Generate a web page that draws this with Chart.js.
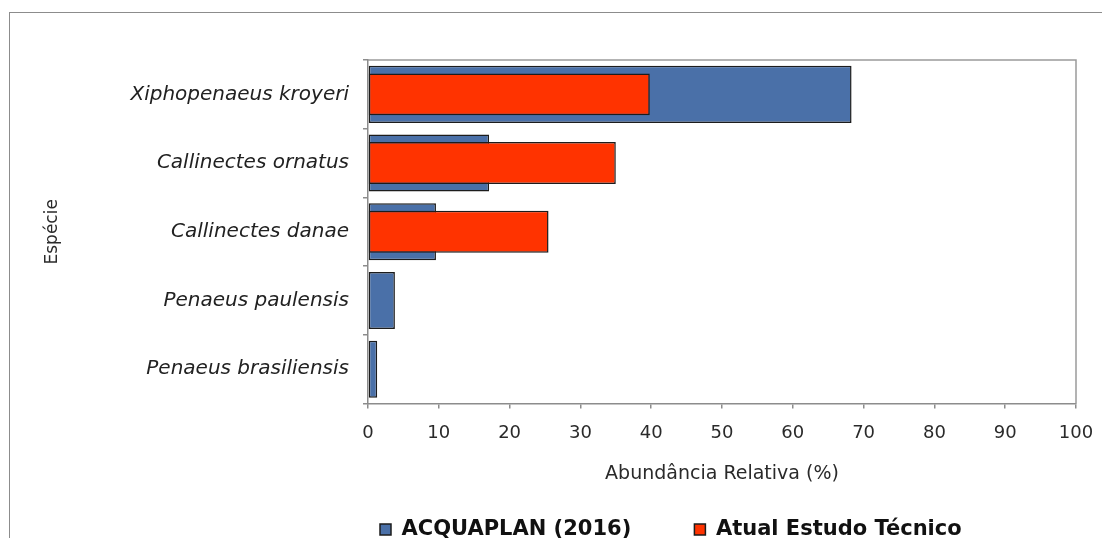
<!DOCTYPE html>
<html>
<head>
<meta charset="utf-8">
<script src="https://cdn.jsdelivr.net/npm/chart.js@4/dist/chart.umd.min.js"></script>
<style>
  html, body { margin: 0; padding: 0; background: #fff; }
  #wrap { position: relative; width: 1102px; height: 538px; overflow: hidden; }
  #frame { position: absolute; left: 9px; top: 12px; width: 1200px; height: 700px; border: 1.5px solid #8c8c8c; }
  #chart { position: absolute; left: 0; top: 0; }
</style>
</head>
<body>
<div id="wrap">
  <div id="frame"></div>
  <canvas id="chart" width="1102" height="538"></canvas>
</div>
<script>
// dados
const especies = ['Xiphopenaeus kroyeri', 'Callinectes ornatus', 'Callinectes danae', 'Penaeus paulensis', 'Penaeus brasiliensis'];
const acquaplan2016 = [68.3, 17.1, 9.6, 3.8, 1.3];
const atualEstudo = [39.8, 35.0, 25.5, null, null];
const xMin = 0;
const xMax = 100;
const xStep = 10;

const fontFamily = '"DejaVu Sans", Verdana, sans-serif';

// moldura superior e direita da área do gráfico
const plotFrame = {
    id: 'plotFrame',
    beforeDatasetsDraw(chart) {
        const { ctx, chartArea } = chart;
        ctx.save();
        ctx.strokeStyle = '#9a9a9a';
        ctx.lineWidth = 1.5;
        ctx.beginPath();
        ctx.moveTo(chartArea.left, chartArea.top);
        ctx.lineTo(chartArea.right, chartArea.top);
        ctx.lineTo(chartArea.right, chartArea.bottom);
        ctx.stroke();
        ctx.restore();
    }
};

const ctx = document.getElementById('chart').getContext('2d');
new Chart(ctx, {
    type: 'bar',
    data: {
        labels: especies,
        datasets: [{
            label: 'ACQUAPLAN (2016)',
            data: acquaplan2016,
            backgroundColor: '#4a70a8',
            borderColor: '#1c1c1c',
            borderWidth: 1.5,
            borderSkipped: false,
            grouped: false,
            categoryPercentage: 1,
            barPercentage: 0.83,
            order: 1
        }, {
            label: 'Atual Estudo Técnico',
            data: atualEstudo,
            backgroundColor: '#ff3300',
            borderColor: '#1c1c1c',
            borderWidth: 1.5,
            borderSkipped: false,
            grouped: false,
            categoryPercentage: 1,
            barPercentage: 0.61,
            order: 0
        }]
    },
    options: {
        indexAxis: 'y',
        responsive: false,
        animation: false,
        layout: { padding: { left: 36, right: 26, top: 60, bottom: -12 } },
        scales: {
            x: {
                min: xMin,
                max: xMax,
                ticks: {
                    stepSize: xStep,
                    color: '#2a2a2a',
                    padding: 14,
                    font: { family: fontFamily, size: 18 }
                },
                grid: { drawOnChartArea: false, tickLength: 5, color: '#8c8c8c', lineWidth: 1.5 },
                border: { color: '#8c8c8c', width: 1.5 },
                title: {
                    display: true,
                    text: 'Abundância Relativa (%)',
                    color: '#2a2a2a',
                    font: { family: fontFamily, size: 19 },
                    padding: { top: 4, bottom: 22 }
                },
                afterFit(scale) { scale.paddingRight = 0; }
            },
            y: {
                ticks: {
                    color: '#222',
                    padding: 14,
                    font: { family: fontFamily, size: 20, style: 'italic' }
                },
                grid: { drawOnChartArea: false, tickLength: 5, color: '#8c8c8c', lineWidth: 1.5, offset: true },
                border: { color: '#8c8c8c', width: 1.5 },
                title: {
                    display: true,
                    text: 'Espécie',
                    color: '#2a2a2a',
                    font: { family: fontFamily, size: 17 },
                    padding: { top: 6, bottom: 4 }
                },
                afterFit(scale) { scale.width = 332; }
            }
        },
        plugins: {
            legend: {
                position: 'bottom',
                align: 'start',
                fullSize: false,
                reverse: true,
                labels: {
                    color: '#111',
                    boxWidth: 11,
                    boxHeight: 11,
                    padding: 12,
                    font: { family: fontFamily, size: 21, weight: 'bold' },
                    generateLabels(chart) {
                        const items = Chart.defaults.plugins.legend.labels.generateLabels(chart);
                        // espaço entre as duas entradas da legenda
                        items.forEach(it => {
                            if (it.datasetIndex === 0) it.text = it.text + '\u00a0'.repeat(7);
                        });
                        return items;
                    }
                }
            },
            tooltip: { enabled: false }
        }
    },
    plugins: [plotFrame]
});
</script>
</body>
</html>
